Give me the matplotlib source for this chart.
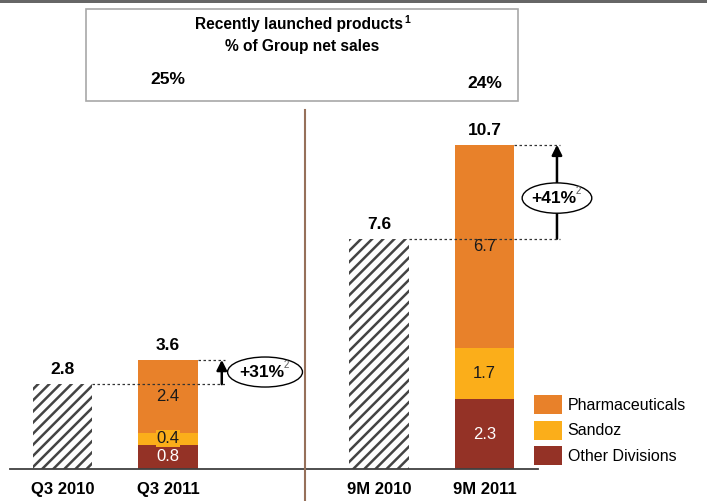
import matplotlib.pyplot as plt
from matplotlib.patches import Rectangle, Ellipse
from matplotlib.lines import Line2D

plt.rcParams['font.family'] = ['Liberation Sans', 'DejaVu Sans']
plt.rcParams['hatch.linewidth'] = 1.8

# data
periods = ["Q3 2010", "Q3 2011", "9M 2010", "9M 2011"]
positions = [0, 1, 3, 4]
prior_totals = [2.8, 7.6]          # hatched bars (Q3 2010, 9M 2010)
other_div = [0.8, 2.3]             # Q3 2011, 9M 2011
sandoz = [0.4, 1.7]
pharma = [2.4, 6.7]
current_totals = [3.6, 10.7]
growth = ["+31%", "+41%"]
share_labels = ["25%", "24%"]

c_pharma = '#E8812A'
c_sandoz = '#FBAE1A'
c_other = '#943226'

W, H = 707, 501
fig = plt.figure(figsize=(W / 100, H / 100), dpi=100)
ax = fig.add_axes([0, 32 / H, 1, 467 / H])
ax.set_xlim(-0.592, 6.109)
ax.set_ylim(0, 15.41)
ax.axis('off')

bw = 0.56
prev_x = [positions[0], positions[2]]
curr_x = [positions[1], positions[3]]

# hatched prior-year bars
ax.bar(prev_x, prior_totals, width=bw, color='white', edgecolor='#444444',
       hatch='///', linewidth=0)

# stacked current bars
ax.bar(curr_x, other_div, width=bw, color=c_other, label='Other Divisions')
ax.bar(curr_x, sandoz, width=bw, bottom=other_div, color=c_sandoz, label='Sandoz')
b2 = [o + s for o, s in zip(other_div, sandoz)]
ax.bar(curr_x, pharma, width=bw, bottom=b2, color=c_pharma, label='Pharmaceuticals')

# segment labels
for i, x in enumerate(curr_x):
    ax.text(x, other_div[i] / 2, f"{other_div[i]:.1f}", ha='center', va='center',
            color='white', fontsize=12)
    bb = dict(boxstyle='square,pad=0.05', fc=c_sandoz, ec='none') if i == 0 else None
    ax.text(x, other_div[i] + sandoz[i] / 2, f"{sandoz[i]:.1f}", ha='center', va='center',
            color='#1a1a1a', fontsize=12, bbox=bb)
    ax.text(x, b2[i] + pharma[i] / 2, f"{pharma[i]:.1f}", ha='center', va='center',
            color='#1a1a1a', fontsize=12, zorder=5)

# totals above bars
for x, v in zip(prev_x + curr_x, prior_totals + current_totals):
    ax.annotate(f"{v:.1f}", (x, v), xytext=(0, 5), textcoords='offset points',
                ha='center', va='bottom', fontsize=12.5, fontweight='bold')

# x labels
for x, lab in zip(positions, periods):
    ax.text(x, -0.69, lab, ha='center', va='center', fontsize=12, fontweight='bold')

# baseline
ax.plot([-0.498, 4.507], [0, 0], color='#404040', lw=1.3, clip_on=False)

# growth arrows
arrow_x = [1.51, 4.687]
ell_pos = [(1.92, 3.2), (4.687, 8.94)]
ell_size = [(0.71, 0.99), (0.66, 1.0)]
for i in range(2):
    lo, hi = prior_totals[i], current_totals[i]
    ax.plot([prev_x[i] + bw / 2, arrow_x[i] + 0.03], [lo, lo], ls=(0, (2, 2)),
            color='#333333', lw=0.9, zorder=4)
    ax.plot([curr_x[i] + bw / 2, arrow_x[i] + 0.03], [hi, hi], ls=(0, (2, 2)),
            color='#333333', lw=0.9, zorder=4)
    ax.annotate('', xy=(arrow_x[i], hi), xytext=(arrow_x[i], lo),
                arrowprops=dict(arrowstyle='-|>,head_width=0.3,head_length=0.6',
                                lw=1.8, color='black', shrinkA=0, shrinkB=0))
    ex, ey = ell_pos[i]
    ax.add_patch(Ellipse((ex, ey), ell_size[i][0], ell_size[i][1], fc='white',
                         ec='black', lw=1, zorder=6))
    ax.text(ex - 0.03, ey, growth[i], ha='center', va='center', fontsize=12.5,
            fontweight='bold', zorder=7)
    ax.text(ex + 0.2, ey + 0.22, "2", ha='center', va='center', fontsize=7,
            color='#555555', zorder=7)

# legend
handles, labels = ax.get_legend_handles_labels()
fig.legend(handles[::-1], labels[::-1], loc='lower left',
           bbox_to_anchor=(534 / W, (H - 465) / H), frameon=False, fontsize=11.5,
           handlelength=1.75, handleheight=1.45, labelspacing=0.4,
           handletextpad=0.35, borderpad=0, borderaxespad=0)

# top strip, title box, divider
fig.add_artist(Rectangle((0, (H - 3) / H), 1, 3 / H, transform=fig.transFigure,
                         fc='#666666', ec='none'))
fig.add_artist(Rectangle((86 / W, (H - 101) / H), 432 / W, 92 / H,
                         transform=fig.transFigure, fc='white', ec='#a8a8a8', lw=1.2))
t1 = fig.text(299 / W, (H - 25) / H, "Recently launched products", ha='center',
              va='center', fontsize=11.2, fontweight='bold')
fig.canvas.draw()
bb1 = t1.get_window_extent()
fig.text((bb1.x1 + 1) / W, (H - 20) / H, "1", ha='left', va='center', fontsize=7.5,
         fontweight='bold')
fig.text(302 / W, (H - 47) / H, "% of Group net sales", ha='center', va='center',
         fontsize=11.2, fontweight='bold')
fig.text(168 / W, (H - 80) / H, share_labels[0], ha='center', va='center',
         fontsize=12.5, fontweight='bold')
fig.text(485 / W, (H - 84) / H, share_labels[1], ha='center', va='center',
         fontsize=12.5, fontweight='bold')
fig.add_artist(Line2D([305 / W, 305 / W], [0, (H - 110) / H], transform=fig.transFigure,
                      color='#96705a', lw=1.5))

fig.savefig('out.png', dpi=100)
